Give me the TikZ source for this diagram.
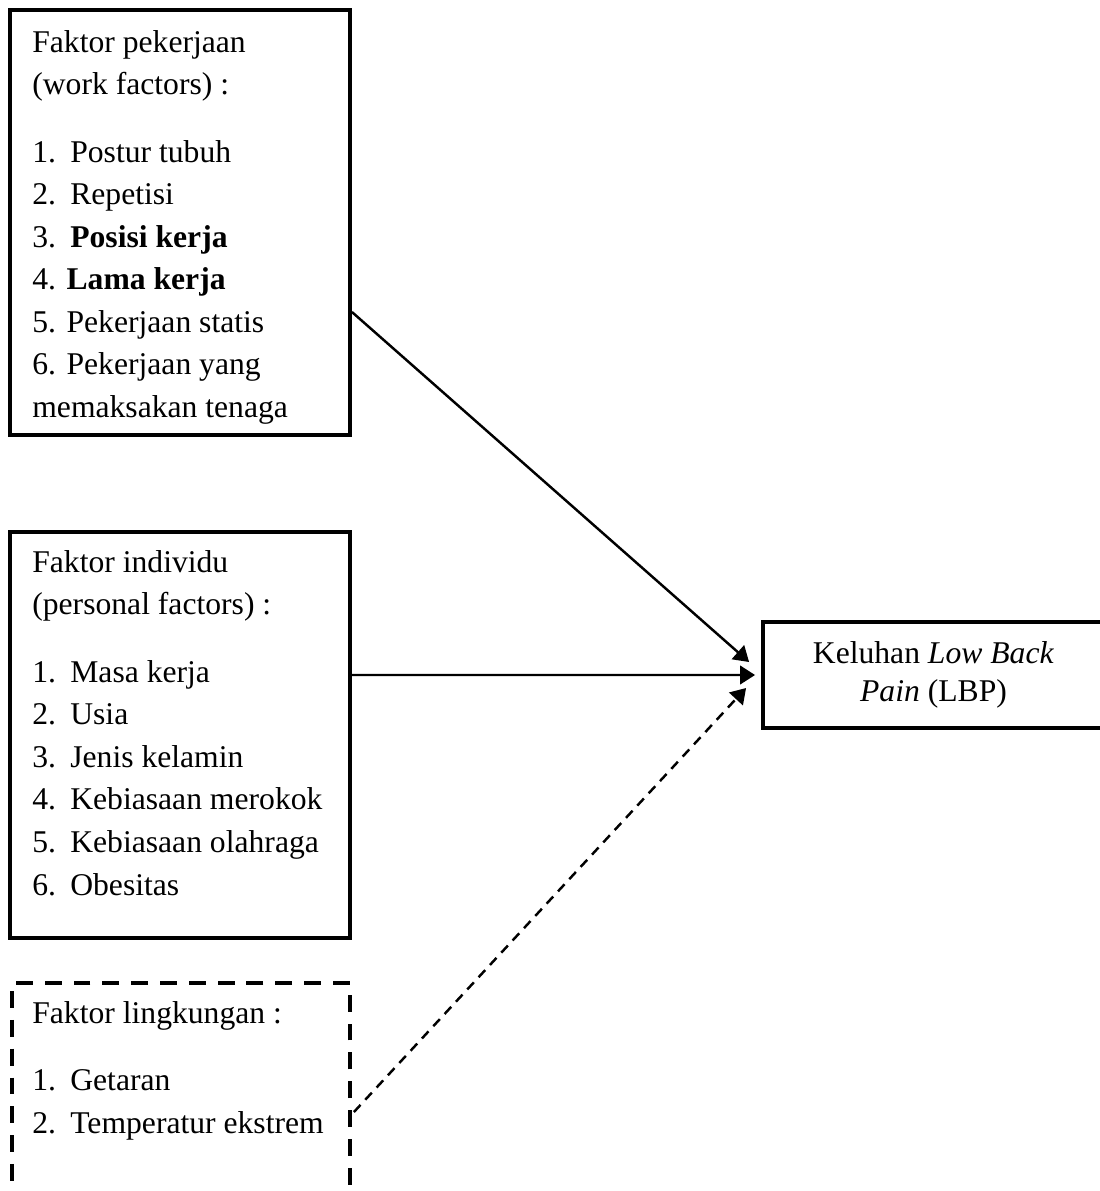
\documentclass[tikz,border=0pt]{standalone}
\usepackage{fontspec}
\setmainfont{Liberation Serif}
\usetikzlibrary{arrows.meta}
\newcommand{\itemnr}[1]{\makebox[0.76cm][l]{#1}}
\begin{document}
\begin{tikzpicture}[x=0.2mm,y=-0.2mm,
	box/.style={draw, line width=2.2pt, inner sep=0pt},
	txt/.style={anchor=north west, inner sep=0pt, align=left, font=\fontsize{18}{24.2}\selectfont},
	link/.style={line width=1.4pt, -{Triangle[length=8.5pt,width=10.5pt]}}]
	\useasboundingbox (0,0) rectangle (1100,1191);
	\node (work)  at (180,222.5)	[box, minimum width=6.8cm, minimum height=8.5cm]	{};
	\node (indiv) at (180,735)	[box, minimum width=6.8cm, minimum height=8.12cm]	{};
	\node (env)   at (181,1116.5)	[box, dash pattern=on 9.6pt off 6.8pt, minimum width=6.76cm, minimum height=5.34cm]	{};
	\node (lbp)   at (933.5,675)	[box, minimum width=6.82cm, minimum height=2.12cm, align=center, font=\fontsize{18}{21.6}\selectfont]	{Keluhan \textit{Low Back}\\\textit{Pain} (LBP)};
	\node (worktxt)  at (32,30)	[txt]	{Faktor pekerjaan\\(work factors) :\\[0.5cm]
		\itemnr{1.}Postur tubuh\\\itemnr{2.}Repetisi\\\itemnr{3.}\textbf{Posisi kerja}\\
		4. \textbf{Lama kerja}\\5. Pekerjaan statis\\6. Pekerjaan yang\\memaksakan tenaga};
	\node (indivtxt) at (32,550)	[txt]	{Faktor individu\\(personal factors) :\\[0.5cm]
		\itemnr{1.}Masa kerja\\\itemnr{2.}Usia\\\itemnr{3.}Jenis kelamin\\
		\itemnr{4.}Kebiasaan merokok\\\itemnr{5.}Kebiasaan olahraga\\\itemnr{6.}Obesitas};
	\node (envtxt)   at (32,1001)	[txt]	{Faktor lingkungan :\\[0.5cm]
		\itemnr{1.}Getaran\\\itemnr{2.}Temperatur ekstrem};
	\draw[link] ([yshift=-1.79cm]work.east) -- ([xshift=-0.24cm, yshift=0.26cm]lbp.west);
	\draw[link] ([yshift=1.2cm]indiv.east) -- ([xshift=-0.12cm]lbp.west);
	\draw[link, dash pattern=on 5.5pt off 4pt] ([xshift=0.04cm, yshift=0.09cm]env.east) -- ([xshift=-0.3cm, yshift=-0.26cm]lbp.west);
\end{tikzpicture}
\end{document}
